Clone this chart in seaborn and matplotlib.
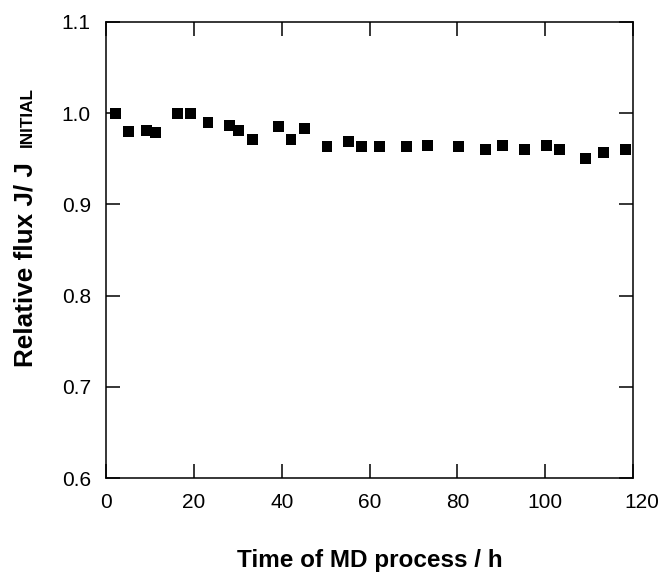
import matplotlib
matplotlib.use("Agg")
import matplotlib.pyplot as plt
import matplotlib.transforms as mtransforms
import seaborn as sns
import pandas as pd

# 数据：运行时间 / h 与相对通量
time_h = [2.2, 5.2, 9.3, 11.3, 16.2, 19.2, 23.2, 28.2, 30.2, 33.3,
          39.3, 42.1, 45.2, 50.3, 55.1, 58.2, 62.3, 68.3, 73.2, 80.3,
          86.3, 90.3, 95.2, 100.2, 103.2, 109.2, 113.2, 118.2]
rel_flux = [1.000, 0.980, 0.981, 0.979, 1.000, 1.000, 0.990, 0.986, 0.981, 0.971,
            0.985, 0.971, 0.983, 0.963, 0.969, 0.963, 0.963, 0.963, 0.965, 0.963,
            0.960, 0.965, 0.960, 0.965, 0.960, 0.950, 0.957, 0.960]
x_ticks = [0, 20, 40, 60, 80, 100, 120]
y_ticks = [0.6, 0.7, 0.8, 0.9, 1.0, 1.1]

df = pd.DataFrame({"time": time_h, "flux": rel_flux})

sns.set_theme(style="ticks")
plt.rcParams['font.family'] = ['Liberation Sans', 'DejaVu Sans']
plt.rcParams['text.color'] = 'black'
plt.rcParams['axes.labelcolor'] = 'black'
plt.rcParams['xtick.color'] = 'black'
plt.rcParams['ytick.color'] = 'black'

fig = plt.figure(figsize=(6.63, 5.76), dpi=100)
ax = fig.add_axes([0.160, 0.170, 0.795, 0.792])

sns.scatterplot(data=df, x="time", y="flux", marker="s", color="black",
                s=62, edgecolor="none", ax=ax)

ax.set_xlim(0, 120)
ax.set_ylim(0.6, 1.1)
ax.set_xticks(x_ticks)
ax.set_yticks(y_ticks)
ax.set_xticklabels([str(t) for t in x_ticks])
ax.set_yticklabels([f"{t:.1f}" for t in y_ticks])

for s in ax.spines.values():
    s.set_visible(True)
    s.set_linewidth(1.1)
    s.set_color("black")
ax.tick_params(direction="in", length=10, width=1.1, color="black",
               top=True, right=True, labelsize=15, labelcolor="black")
ax.tick_params(axis="x", pad=11)
ax.tick_params(axis="y", pad=11)

# 最后一个刻度标签略向右偏（原图如此）
lab = ax.get_xticklabels()[-1]
lab.set_transform(lab.get_transform() +
                  mtransforms.ScaledTranslation(9 / 100, 0, fig.dpi_scale_trans))

ax.set_xlabel("Time of MD process / h", fontsize=17.5, fontweight="bold")
ax.xaxis.set_label_coords(0.5, -0.156)

# y轴标签：主体 + 小号 INITIAL
ax.set_ylabel("Relative flux J/ J", fontsize=18.8, fontweight="bold")
ax.yaxis.set_label_coords(-0.131, 0.469)
ax.text(-0.135, 0.858, "INITIAL", transform=ax.transAxes, rotation=90,
        fontsize=12.3, fontweight="bold", ha="right", va="top")

fig.savefig("out.png", dpi=100)
